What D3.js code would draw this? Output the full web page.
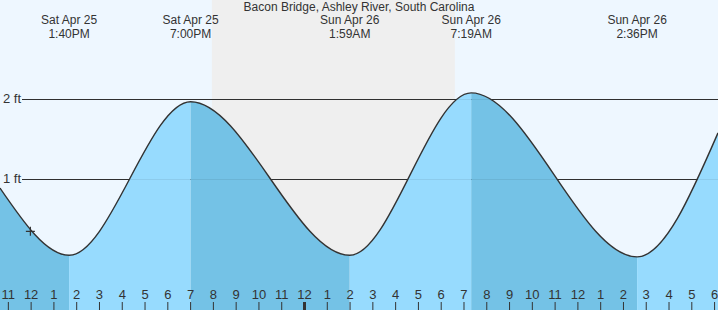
<!DOCTYPE html>
<html>
<head>
<meta charset="utf-8">
<script src="https://cdn.jsdelivr.net/npm/d3@7"></script>
<style>
  body { margin: 0; background: #fff; }
  svg text { font-family: "Liberation Sans", Arial, sans-serif; fill: #333; }
</style>
</head>
<body>
<div class="chart-container"></div>
<script>
// chart data
const title = "Bacon Bridge, Ashley River, South Carolina";
const viewStart = "2020-04-25T10:38";
const viewEnd = "2020-04-26T18:09";
const tideTimes = ["2020-04-25T13:40", "2020-04-25T19:00", "2020-04-26T01:59", "2020-04-26T07:19", "2020-04-26T14:36"];
const tideHeights = [0.05, 1.97, 0.05, 2.08, 0.03];
const tideDays = ["Sat Apr 25", "Sat Apr 25", "Sun Apr 26", "Sun Apr 26", "Sun Apr 26"];
const tideClock = ["1:40PM", "7:00PM", "1:59AM", "7:19AM", "2:36PM"];
const edgeHeights = [0.89, 1.58];
const nightTimes = ["2020-04-25T19:56", "2020-04-26T06:36"];
const gridFeet = [1, 2];
const nowTime = "2020-04-25T11:58";
const nowHeight = 0.35;

const parse = d3.timeParse("%Y-%m-%dT%H:%M");

// define canvas
const w = 718;
const h = 310;

const svg = d3
  .select(".chart-container")
  .append("svg")
  .attr("width", w)
  .attr("height", h);

const xScale = d3
  .scaleTime()
  .domain([parse(viewStart), parse(viewEnd)])
  .range([0, w]);

const yScale = d3.scaleLinear().domain([0, 2]).range([259.3, 99.3]);

// points of the tide curve, edges included
const points = [{ t: parse(viewStart), v: edgeHeights[0] }]
  .concat(tideTimes.map((d, i) => ({ t: parse(d), v: tideHeights[i] })))
  .concat([{ t: parse(viewEnd), v: edgeHeights[1] }]);

// background, day and night
svg.append("rect").attr("width", w).attr("height", h).attr("fill", "#eef7ff");
svg
  .append("rect")
  .attr("x", xScale(parse(nightTimes[0])))
  .attr("y", 0)
  .attr("width", xScale(parse(nightTimes[1])) - xScale(parse(nightTimes[0])))
  .attr("height", h)
  .attr("fill", "#efefef");

// grid lines
const drawGrid = (color) =>
  svg
    .append("g")
    .selectAll("line")
    .data(gridFeet)
    .enter()
    .append("line")
    .attr("x1", 22)
    .attr("x2", w)
    .attr("y1", (d) => Math.round(yScale(d)) + 0.5)
    .attr("y2", (d) => Math.round(yScale(d)) + 0.5)
    .attr("stroke", color)
    .attr("stroke-width", 1);
drawGrid("#333");

svg
  .append("g")
  .selectAll("text")
  .data(gridFeet)
  .enter()
  .append("text")
  .attr("x", 3)
  .attr("y", (d) => yScale(d) + 4)
  .attr("font-size", 13)
  .text((d) => d + " ft");

// tide area, coloured by rising / falling
const area = d3
  .area()
  .x((d) => xScale(d.t))
  .y0(h)
  .y1((d) => yScale(d.v))
  .curve(d3.curveMonotoneX);

const line = d3
  .line()
  .x((d) => xScale(d.t))
  .y((d) => yScale(d.v))
  .curve(d3.curveMonotoneX);

svg
  .append("clipPath")
  .attr("id", "tide-clip")
  .append("path")
  .attr("d", area(points));

svg
  .append("g")
  .attr("clip-path", "url(#tide-clip)")
  .selectAll("rect")
  .data(points.slice(0, -1))
  .enter()
  .append("rect")
  .attr("x", (d) => xScale(d.t))
  .attr("y", 0)
  .attr("width", (d, i) => xScale(points[i + 1].t) - xScale(d.t))
  .attr("height", h)
  .attr("fill", (d, i) => (points[i + 1].v > d.v ? "#97dbfe" : "#74c2e6"));

drawGrid("rgba(0,0,0,0.07)");

svg
  .append("path")
  .attr("d", line(points))
  .attr("fill", "none")
  .attr("stroke", "#333")
  .attr("stroke-width", 1.4);

// current time marker
const mx = xScale(parse(nowTime));
const my = yScale(nowHeight);
svg
  .append("path")
  .attr("d", `M${mx - 4.5},${my}H${mx + 4.5}M${mx},${my - 4.5}V${my + 4.5}`)
  .attr("stroke", "#333")
  .attr("stroke-width", 1.2);

// hour axis
const hours = d3.timeHour.range(parse(viewStart), parse(viewEnd));
const hourAxis = svg.append("g");
hourAxis
  .selectAll("line")
  .data(hours)
  .enter()
  .append("line")
  .attr("x1", (d) => xScale(d))
  .attr("x2", (d) => xScale(d))
  .attr("y1", 302)
  .attr("y2", h)
  .attr("stroke", "#333")
  .attr("stroke-width", (d) => (d.getHours() === 0 ? 3 : 1));
hourAxis
  .selectAll("text")
  .data(hours)
  .enter()
  .append("text")
  .attr("x", (d) => xScale(d))
  .attr("y", 299)
  .attr("text-anchor", "middle")
  .attr("font-size", 13)
  .text(d3.timeFormat("%-I"));

// title and hi/lo labels, stacked tightly
svg
  .append("text")
  .attr("x", w / 2)
  .attr("y", 10.5)
  .attr("text-anchor", "middle")
  .attr("font-size", 12)
  .text(title);

svg
  .append("g")
  .selectAll("text")
  .data(tideTimes)
  .enter()
  .append("text")
  .attr("x", (d) => xScale(parse(d)))
  .attr("y", 24.2)
  .attr("text-anchor", "middle")
  .attr("font-size", 12)
  .text((d, i) => tideDays[i]);

svg
  .append("g")
  .selectAll("text")
  .data(tideTimes)
  .enter()
  .append("text")
  .attr("x", (d) => xScale(parse(d)))
  .attr("y", 37.9)
  .attr("text-anchor", "middle")
  .attr("font-size", 12)
  .text((d, i) => tideClock[i]);
</script>
</body>
</html>
